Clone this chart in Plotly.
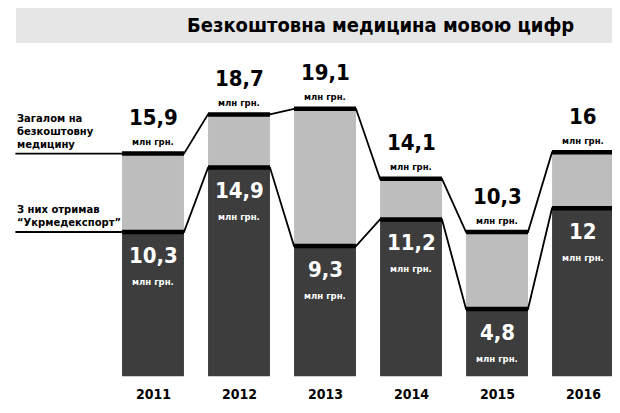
import plotly.graph_objects as go

years = ["2011", "2012", "2013", "2014", "2015", "2016"]
total = [15.9, 18.7, 19.1, 14.1, 10.3, 16]
part = [10.3, 14.9, 9.3, 11.2, 4.8, 12]

FONT = "Liberation Sans Narrow, DejaVu Sans Condensed, Roboto, sans-serif"
W = 0.72
x = list(range(len(years)))

def fmt(v):
    return f"{v:g}".replace(".", ",")

fig = go.Figure()
fig.add_bar(x=x, y=part, base=0, width=W, marker_color="#3d3d3d", marker_line_width=0, hoverinfo="skip")
fig.add_bar(x=x, y=[t - p for t, p in zip(total, part)], base=part, width=W,
            marker_color="#bdbdbd", marker_line_width=0, hoverinfo="skip")

left = -1.6
for series in (total, part):
    xs, ys = [left], [series[0]]
    for i, v in enumerate(series):
        xs += [i - W / 2, i + W / 2]
        ys += [v, v]
    fig.add_scatter(x=xs, y=ys, mode="lines", line=dict(color="black", width=1.8), hoverinfo="skip")
    for i, v in enumerate(series):
        fig.add_scatter(x=[i - W / 2, i + W / 2], y=[v, v], mode="lines",
                        line=dict(color="black", width=4.5), hoverinfo="skip")

ann = []
for i in x:
    ann.append(dict(x=i, y=total[i], text=f"<b>{fmt(total[i])}</b>", yshift=36, font=dict(size=22, color="black", family=FONT)))
    ann.append(dict(x=i, y=total[i], text="<b>млн грн.</b>", yshift=12, font=dict(size=9.5, color="black", family=FONT)))
    ann.append(dict(x=i, y=part[i], text=f"<b>{fmt(part[i])}</b>", yshift=-23, font=dict(size=22, color="white", family=FONT)))
    ann.append(dict(x=i, y=part[i], text="<b>млн грн.</b>", yshift=-49, font=dict(size=9.5, color="white", family=FONT)))
    ann.append(dict(x=i, y=0, text=f"<b>{years[i]}</b>", yshift=-18, font=dict(size=14, color="black", family=FONT)))
for a in ann:
    a.update(showarrow=False, xref="x", yref="y")

ann.append(dict(xref="paper", yref="paper", x=0.6, y=1 - 17 / 413, yanchor="middle",
                text="<b>Безкоштовна медицина мовою цифр</b>",
                showarrow=False, font=dict(size=20, color="black", family=FONT)))
ann.append(dict(xref="x", yref="y", x=left, y=total[0], xanchor="left", yanchor="bottom", align="left", yshift=2,
                text="<b>Загалом на<br>безкоштовну<br>медицину</b>", showarrow=False,
                font=dict(size=10, color="black", family="DejaVu Sans")))
ann.append(dict(xref="x", yref="y", x=left, y=part[0], xanchor="left", yanchor="bottom", align="left", yshift=2,
                text="<b>З них отримав<br>“Укрмедекспорт”</b>", showarrow=False,
                font=dict(size=10, color="black", family="DejaVu Sans")))

fig.update_layout(
    width=620, height=413, margin=dict(l=0, r=0, t=0, b=0),
    paper_bgcolor="white", plot_bgcolor="white", showlegend=False, barmode="overlay",
    xaxis=dict(range=[-1.686, 5.523], visible=False, fixedrange=True),
    yaxis=dict(range=[-3.2, 26.3], visible=False, fixedrange=True),
    annotations=ann,
    shapes=[
        dict(type="rect", xref="paper", yref="paper", x0=8 / 620, x1=1, y0=1 - 35 / 413, y1=1,
             fillcolor="#e6e6e6", line_width=0, layer="below"),
        dict(type="line", xref="paper", yref="paper", x0=8 / 620, x1=1, y0=3 / 413, y1=3 / 413,
             line=dict(color="#bbbbbb", width=1.5)),
    ],
)
fig.write_html("out.html")
